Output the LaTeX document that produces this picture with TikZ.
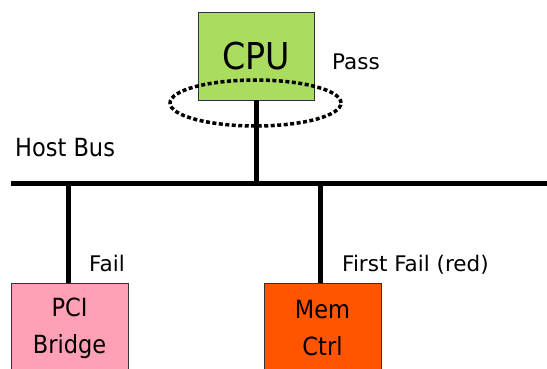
\documentclass[tikz,border=0pt]{standalone}
\usepackage{fontspec}
\setmainfont[FakeStretch=0.9]{DejaVu Sans}
\newfontfamily\lblfont{DejaVu Sans}
\usetikzlibrary{shapes.geometric}
\definecolor{cpugreen}{RGB}{170,220,95}
\definecolor{pcipink}{RGB}{255,160,180}
\definecolor{memorange}{RGB}{255,85,0}

\begin{document}
\begin{tikzpicture}[x=1pt,y=-1pt,
		unit/.style={rectangle, draw=black!80, line width=0.8pt, inner sep=0pt, minimum width=117pt, minimum height=90pt, align=center, font=\fontsize{25}{37}\selectfont},
		wire/.style={line width=5pt},
		lbl/.style={inner sep=0pt, anchor=base west, font=\lblfont\fontsize{21.5}{25}\selectfont}]
			\clip (0,0) rectangle (547,369);

			% Set the boxes on the bus
			\node[unit, fill=cpugreen, minimum width=116pt, minimum height=88pt, font=\fontsize{37}{40}\selectfont] (cpu) at (256,56) {CPU};
			\node[unit, fill=pcipink, anchor=north] (pci) at (69.5,283) {PCI\\Bridge};
			\node[unit, fill=memorange, anchor=north] (mem) at (322.5,283) {Mem\\Ctrl};

			% Bus and the taps on it
			\coordinate (busL) at (11,183);
			\coordinate (busR) at (547,183);
			\coordinate (tapPci) at (68,183);
			\coordinate (tapMem) at (320,183);
			\draw[wire] (busL) -- (busR);
			\draw[wire] (cpu.south) -- (cpu.south |- busL);
			\draw[wire] (tapPci) -- (tapPci |- pci.north);
			\draw[wire] (tapMem) -- (tapMem |- mem.north);

			\node[ellipse, draw, line width=3.5pt, dash pattern=on 4pt off 2.5pt, minimum width=171pt, minimum height=46pt, inner sep=0pt] (ring) at (255.5,103) {};

			\node[lbl] (pass) at (332,70) {Pass};
			\node[lbl, font=\fontsize{25}{30}\selectfont] (hostbus) at (15,157) {Host Bus};
			\node[lbl] (fail) at (89,271) {Fail};
			\node[lbl] (firstfail) at (342,271) {First Fail (red)};
		\end{tikzpicture}
\end{document}
